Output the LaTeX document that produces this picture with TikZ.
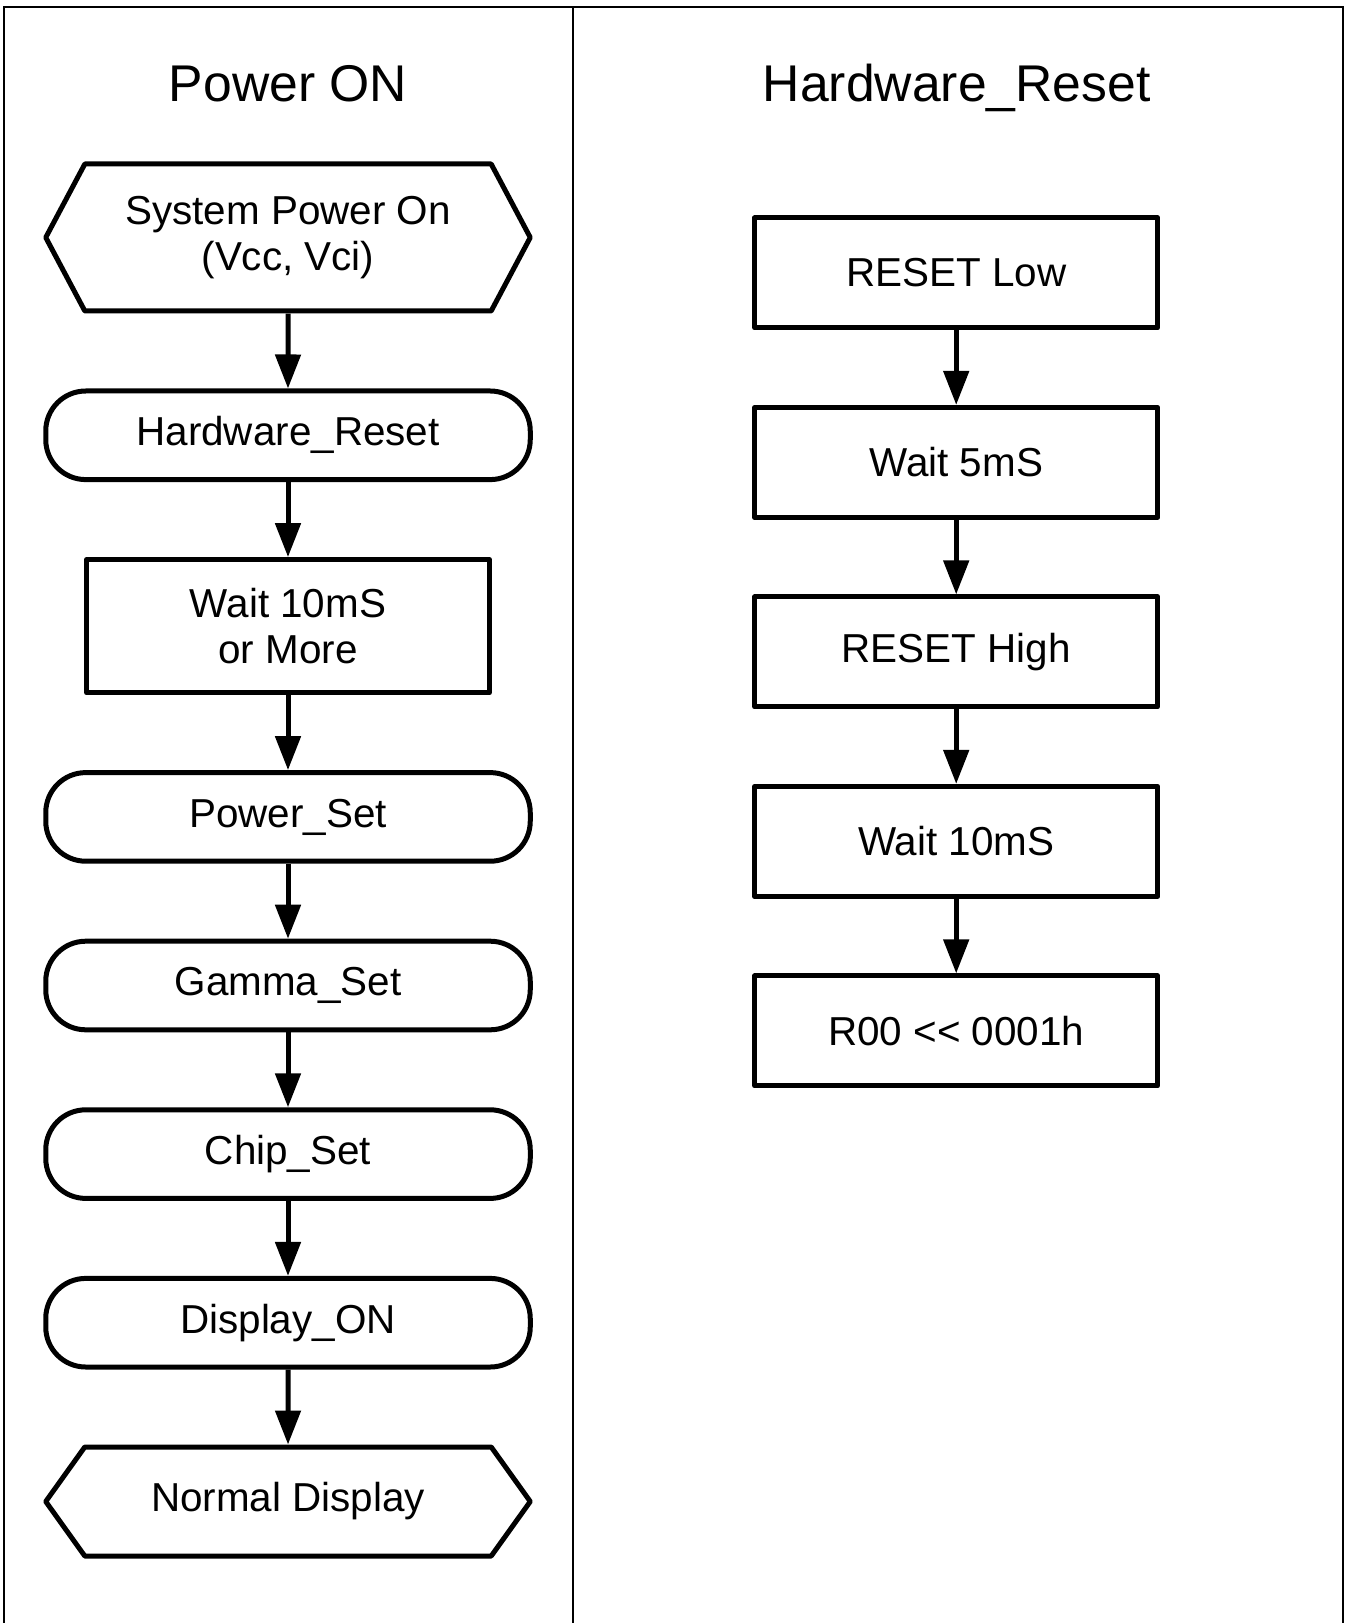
\documentclass[tikz,border=0pt]{standalone}
\usepackage{fontspec}
\setmainfont{Liberation Sans}
\usetikzlibrary{arrows.meta,positioning,shapes.symbols}
\tikzset{
  % 外框和分隔线
  frameline/.style={draw=black, line width=0.6pt},
  % 标题
  title/.style={font=\fontsize{14.7}{17}\selectfont, anchor=base},
  % 基础盒子
  box/.style={
    draw=black,
    line width=0.05cm,
    line join=round,
    minimum width=4.03cm,
    minimum height=1.10cm,
    inner sep=0pt,
    align=center,
    font=\fontsize{11.5}{13}\selectfont
  },
  % 圆角过程
  pill/.style={box, rounded corners=0.4cm, minimum width=4.845cm, minimum height=0.886cm},
  % 六边形(开始/结束)
  hexa/.style={box, shape=signal, signal to=west and east, minimum width=4.845cm},
  % 箭头样式
  arr/.style={-{Triangle[length=0.34cm,width=0.25cm]}, line width=0.05cm},
}
\begin{document}
\begin{tikzpicture}[node distance=0.75cm]
  \useasboundingbox (0,0) rectangle (13.46,-16.23);

  % Frame
  \draw[frameline] (0.041,-16.23) -- (0.041,-0.072) -- (13.43,-0.072) -- (13.43,-16.23);
  \draw[frameline] (5.726,-0.072) -- (5.726,-16.23);

  % Titles
  \node[title] (tpow) at (2.88,-1.015) {Power ON};
  \node[title] (trst) at (9.567,-1.015) {Hardware\_Reset};

  % Power ON flow
  \node[hexa, minimum height=1.47cm, signal pointer angle=124] (sysOn) at (2.88,-2.375) {System Power On\\(Vcc, Vci)};
  \node[pill, below=of sysOn] (hwReset) {Hardware\_Reset};
  \node[box, minimum height=1.33cm, below=of hwReset] (wait10) {Wait 10mS\\or More};
  \node[pill, below=of wait10] (pwrSet) {Power\_Set};
  \node[pill, below=of pwrSet] (gamSet) {Gamma\_Set};
  \node[pill, below=of gamSet] (chipSet) {Chip\_Set};
  \node[pill, below=of chipSet] (dispOn) {Display\_ON};
  \node[hexa, minimum height=1.09cm, signal pointer angle=108.8, below=of dispOn] (normDisp) {Normal Display};

  % Hardware_Reset flow
  \begin{scope}[node distance=0.745cm]
    \node[box] (rstLow) at (9.562,-2.729) {RESET Low};
    \node[box, below=of rstLow] (wait5) {Wait 5mS};
    \node[box, below=of wait5] (rstHigh) {RESET High};
    \node[box, below=of rstHigh] (waitR) {Wait 10mS};
    \node[box, below=of waitR] (r00) {R00 {<}{<} 0001h};
  \end{scope}

  % Arrows
  \foreach \a/\b in {sysOn/hwReset, hwReset/wait10, wait10/pwrSet, pwrSet/gamSet,
                     gamSet/chipSet, chipSet/dispOn, dispOn/normDisp,
                     rstLow/wait5, wait5/rstHigh, rstHigh/waitR, waitR/r00}
    \draw[arr] (\a) -- (\b);
\end{tikzpicture}
\end{document}
